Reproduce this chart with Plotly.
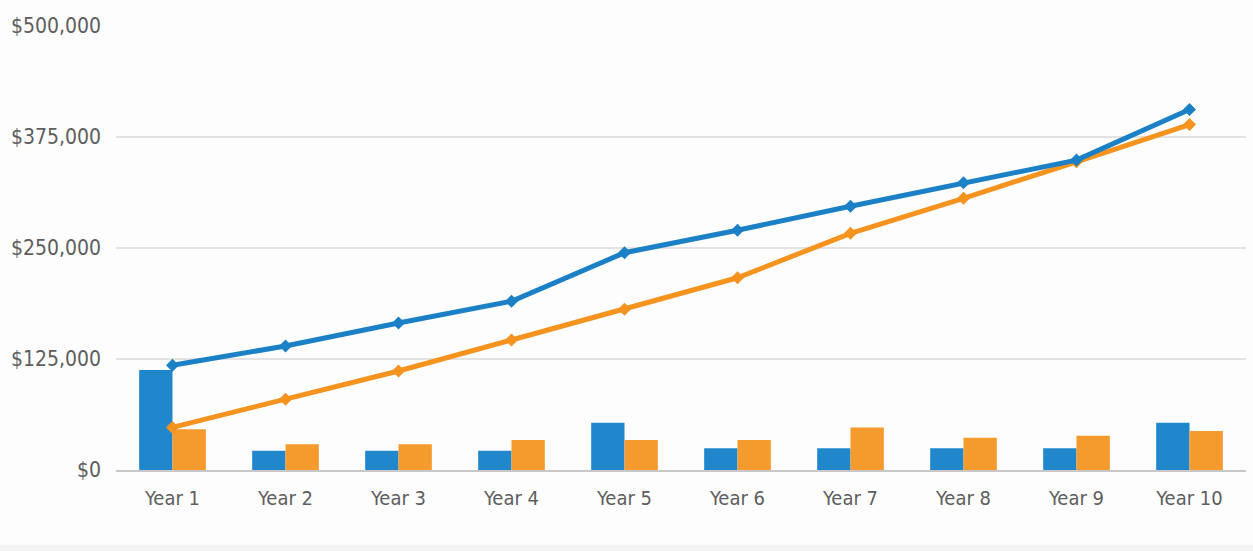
import plotly.graph_objects as go

years = ["Year 1", "Year 2", "Year 3", "Year 4", "Year 5",
         "Year 6", "Year 7", "Year 8", "Year 9", "Year 10"]

blue_bars = [112600, 21700, 21700, 21700, 53300, 24400, 24400, 24400, 24400, 53300]
orange_bars = [45800, 28900, 29000, 33800, 33800, 33800, 48000, 36400, 38600, 43900]

blue_line = [118000, 139600, 165500, 190000, 244700, 270000, 297000, 323500, 349000, 406000]
orange_line = [48000, 79600, 111500, 146400, 181000, 216500, 266500, 306000, 347000, 389000]

y_ticks = [0, 125000, 250000, 375000, 500000]

BLUE = "#2187cc"
ORANGE = "#f59a2c"
LBLUE = "#1b80c6"
LORANGE = "#f5931f"

fig = go.Figure()
fig.add_trace(go.Bar(x=years, y=blue_bars, marker=dict(color=BLUE, line=dict(width=0)), name="A"))
fig.add_trace(go.Bar(x=years, y=orange_bars, marker=dict(color=ORANGE, line=dict(width=0)), name="B"))
fig.add_trace(go.Scatter(x=years, y=orange_line, mode="lines+markers",
                         line=dict(color=LORANGE, width=5),
                         marker=dict(color=LORANGE, size=10, symbol="diamond"), name="C"))
fig.add_trace(go.Scatter(x=years, y=blue_line, mode="lines+markers",
                         line=dict(color=LBLUE, width=5),
                         marker=dict(color=LBLUE, size=10, symbol="diamond"), name="D"))

font_family = "DejaVu Sans Condensed, DejaVu Sans, sans-serif"
TXT = "#5e5e5e"

fig.update_layout(
    width=1253, height=551,
    margin=dict(l=116, r=7, t=26, b=81),
    paper_bgcolor="#fdfdfd",
    plot_bgcolor="#fdfdfd",
    showlegend=False,
    barmode="group",
    bargap=0.41,
    bargroupgap=0,
    font=dict(family=font_family, size=20, color=TXT),
    xaxis=dict(
        type="category",
        range=[-0.5, len(years) - 0.5],
        automargin=False,
        showgrid=False,
        showline=True,
        linecolor="#c8c8c8",
        linewidth=2,
        ticks="",
        ticklabelstandoff=9,
        tickfont=dict(family=font_family, size=20, color=TXT),
    ),
    yaxis=dict(
        range=[0, 500000],
        automargin=False,
        tickvals=y_ticks,
        tickformat="$,.0f",
        showgrid=True,
        gridcolor="#e2e2e2",
        gridwidth=2,
        zeroline=False,
        showline=False,
        ticks="",
        ticklabelstandoff=14,
        tickfont=dict(family=font_family, size=21, color=TXT),
    ),
    shapes=[dict(type="rect", xref="paper", yref="paper",
                 x0=-0.2, x1=1.1, y0=-0.2, y1=-0.168,
                 fillcolor="#f3f3f3", line=dict(width=0), layer="below")],
)

fig.write_html("out.html")
